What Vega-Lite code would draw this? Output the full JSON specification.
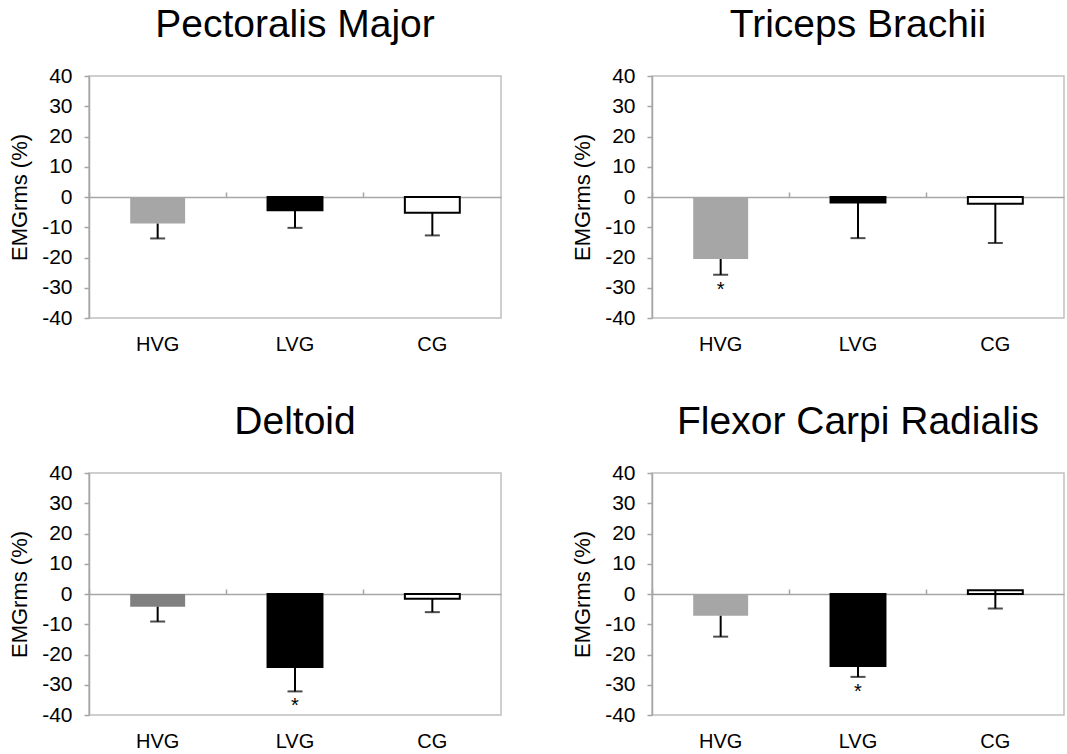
{
  "$schema": "https://vega.github.io/schema/vega-lite/v6.json",
  "background": "white",
  "padding": {"left": 7, "top": 5, "right": 0, "bottom": 0},
  "data": {
    "values": [
      {"muscle": "Pectoralis Major", "group": "HVG", "mean": -8.8, "err": -13.7, "sig": ""},
      {"muscle": "Pectoralis Major", "group": "LVG", "mean": -4.4, "err": -10.2, "sig": ""},
      {"muscle": "Pectoralis Major", "group": "CG", "mean": -5.2, "err": -12.7, "sig": ""},
      {"muscle": "Triceps Brachii", "group": "HVG", "mean": -20.5, "err": -25.7, "sig": "*"},
      {"muscle": "Triceps Brachii", "group": "LVG", "mean": -1.8, "err": -13.6, "sig": ""},
      {"muscle": "Triceps Brachii", "group": "CG", "mean": -2.2, "err": -15.2, "sig": ""},
      {"muscle": "Deltoid", "group": "HVG", "mean": -4.2, "err": -9.1, "sig": ""},
      {"muscle": "Deltoid", "group": "LVG", "mean": -24.1, "err": -32.2, "sig": "*"},
      {"muscle": "Deltoid", "group": "CG", "mean": -1.6, "err": -6.0, "sig": ""},
      {"muscle": "Flexor Carpi Radialis", "group": "HVG", "mean": -7.2, "err": -14.1, "sig": ""},
      {"muscle": "Flexor Carpi Radialis", "group": "LVG", "mean": -23.8, "err": -27.4, "sig": "*"},
      {"muscle": "Flexor Carpi Radialis", "group": "CG", "mean": 1.2, "err": -4.8, "sig": ""}
    ]
  },
  "facet": {
    "field": "muscle",
    "type": "nominal",
    "sort": ["Pectoralis Major", "Triceps Brachii", "Deltoid", "Flexor Carpi Radialis"],
    "header": {
      "title": null,
      "labelFont": "Liberation Sans",
      "labelFontSize": 39,
      "labelColor": "black",
      "labelPadding": 20
    }
  },
  "columns": 2,
  "spacing": {"row": 47, "column": 68},
  "resolve": {"axis": {"x": "independent", "y": "independent"}},
  "spec": {
    "width": 412,
    "height": 242,
    "encoding": {
      "x": {
        "field": "group",
        "type": "nominal",
        "sort": ["HVG", "LVG", "CG"],
        "scale": {"paddingInner": 0, "paddingOuter": 0},
        "axis": null
      },
      "y": {
        "field": "mean",
        "type": "quantitative",
        "scale": {"domain": [-40, 40], "nice": false},
        "axis": {
          "title": "EMGrms (%)",
          "values": [-40, -30, -20, -10, 0, 10, 20, 30, 40],
          "labelExpr": "'' + datum.value",
          "titleFont": "Liberation Sans",
          "titleFontSize": 22,
          "titleFontWeight": "normal",
          "titleColor": "black",
          "titlePadding": 10,
          "labelFont": "Liberation Sans",
          "labelFontSize": 21,
          "labelColor": "black",
          "labelPadding": 12,
          "labelOverlap": false,
          "grid": false,
          "domainColor": "#a6a6a6",
          "domainWidth": 1.5,
          "tickColor": "#a6a6a6",
          "tickSize": 5,
          "tickWidth": 1.5
        }
      }
    },
    "layer": [
      {
        "mark": {"type": "bar", "width": {"band": 0.4}, "strokeWidth": 2},
        "encoding": {
          "x": {
            "field": "group",
            "type": "nominal",
            "sort": ["HVG", "LVG", "CG"],
            "axis": {
              "title": null,
              "domain": false,
              "ticks": false,
              "labelAngle": 0,
              "labelFont": "Liberation Sans",
              "labelFontSize": 20,
              "labelColor": "black",
              "labelPadding": 16
            }
          },
          "fill": {
            "condition": {"test": "datum.muscle === 'Deltoid' && datum.group === 'HVG'", "value": "#808080"},
            "field": "group",
            "type": "nominal",
            "scale": {"domain": ["HVG", "LVG", "CG"], "range": ["#a6a6a6", "#000000", "#ffffff"]},
            "legend": null
          },
          "stroke": {
            "condition": {"test": "datum.group !== 'HVG'", "value": "#000000"},
            "value": "transparent"
          }
        }
      },
      {
        "mark": {"type": "rule", "color": "black", "strokeWidth": 2},
        "encoding": {
          "x": {
            "field": "group",
            "type": "nominal",
            "sort": ["HVG", "LVG", "CG"],
            "axis": {
              "title": null,
              "labels": false,
              "offset": -121,
              "bandPosition": 0,
              "domainColor": "#a6a6a6",
              "domainWidth": 1.5,
              "tickColor": "#a6a6a6",
              "tickWidth": 1.5,
              "tickSize": 5
            }
          },
          "y2": {"field": "err"}
        }
      },
      {
        "mark": {"type": "tick", "color": "black", "thickness": 2, "size": 15},
        "encoding": {
          "y": {"field": "err", "type": "quantitative"}
        }
      },
      {
        "mark": {"type": "text", "font": "Liberation Sans", "fontSize": 20, "color": "black", "baseline": "middle", "dy": 15},
        "encoding": {
          "y": {"field": "err", "type": "quantitative"},
          "text": {"field": "sig"}
        }
      }
    ],
    "resolve": {"axis": {"x": "independent"}}
  },
  "config": {
    "view": {"stroke": "#c0c0c0", "strokeWidth": 1.5},
    "font": "Liberation Sans"
  }
}
